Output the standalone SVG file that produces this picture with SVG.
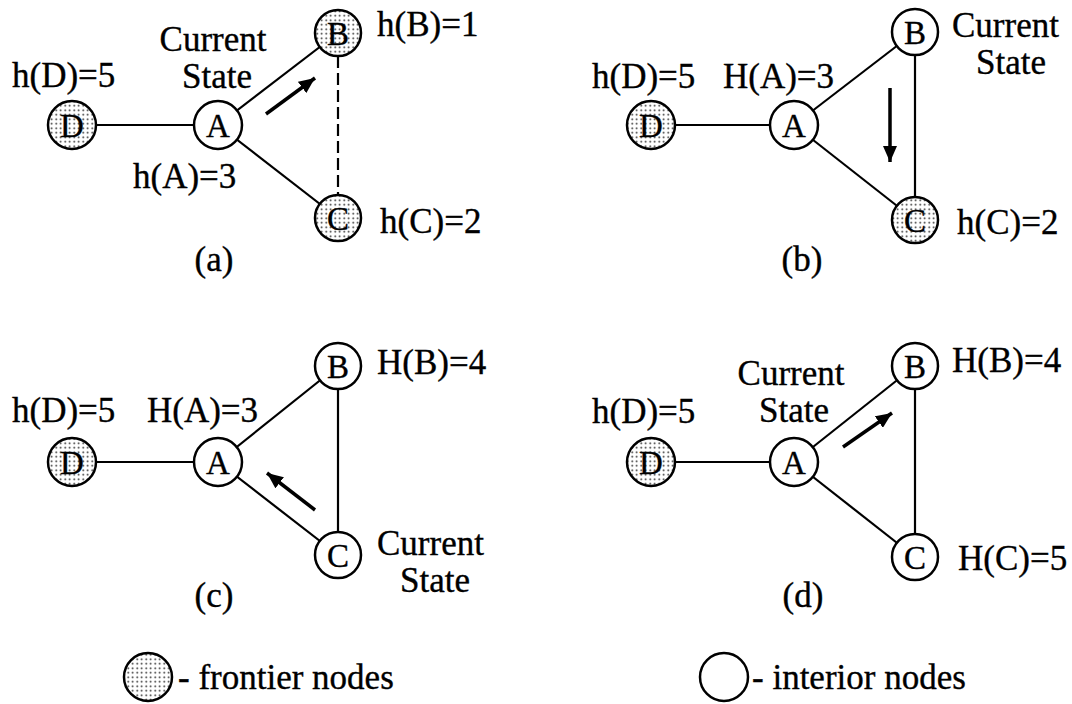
<svg xmlns="http://www.w3.org/2000/svg" width="1072" height="704" viewBox="0 0 1072 704">
<defs>
<pattern id="dots" width="4.5" height="4.5" patternUnits="userSpaceOnUse">
<rect width="4.5" height="4.5" fill="#fff"/>
<circle cx="2.2" cy="2.2" r="0.9" fill="#222"/>
</pattern>
<marker id="ah" markerUnits="userSpaceOnUse" markerWidth="18" markerHeight="14" refX="16" refY="7" orient="auto">
<path d="M0,0 L16,7 L0,14 Z" fill="#000"/>
</marker>
</defs>
<style>
text{font-family:"Liberation Serif","Times New Roman",serif;font-size:35px;fill:#000;stroke:#000;stroke-width:0.35}
.lbl{font-size:33px;text-anchor:middle}
.m{text-anchor:middle}
.edge{stroke:#000;stroke-width:2.2;fill:none}
.dash{stroke-dasharray:12 5}
.arr{stroke:#000;stroke-width:3.5;fill:none}
.fr{fill:url(#dots);stroke:#000;stroke-width:2.5}
.in{fill:#fff;stroke:#000;stroke-width:2.5}
</style>
<rect width="1072" height="704" fill="#fff"/>
<g id="connectors">
<line class="edge" x1="72" y1="125" x2="218" y2="125"/>
<line class="edge" x1="218" y1="125" x2="338" y2="33"/>
<line class="edge" x1="218" y1="125" x2="338" y2="218"/>
<line class="edge dash" x1="338" y1="56" x2="338" y2="195"/>
<line class="arr" x1="266" y1="114" x2="315" y2="78" marker-end="url(#ah)"/>
<line class="edge" x1="651" y1="125" x2="794" y2="125"/>
<line class="edge" x1="794" y1="125" x2="915" y2="32"/>
<line class="edge" x1="794" y1="125" x2="915" y2="220"/>
<line class="edge" x1="915" y1="32" x2="915" y2="220"/>
<line class="arr" x1="890" y1="88" x2="890" y2="162" marker-end="url(#ah)"/>
<line class="edge" x1="72" y1="462" x2="218" y2="462"/>
<line class="edge" x1="218" y1="462" x2="338" y2="366"/>
<line class="edge" x1="218" y1="462" x2="338" y2="555"/>
<line class="edge" x1="338" y1="366" x2="338" y2="555"/>
<line class="arr" x1="315" y1="510" x2="267" y2="473" marker-end="url(#ah)"/>
<line class="edge" x1="651" y1="462" x2="794" y2="462"/>
<line class="edge" x1="794" y1="462" x2="915" y2="366"/>
<line class="edge" x1="794" y1="462" x2="915" y2="557"/>
<line class="edge" x1="915" y1="366" x2="915" y2="557"/>
<line class="arr" x1="843" y1="447" x2="892" y2="413" marker-end="url(#ah)"/>
</g>
<g id="panel-a">
<g id="a-D"><circle class="fr" cx="72" cy="125" r="24"/><text class="lbl" x="72" y="137">D</text></g>
<g id="a-A"><circle class="in" cx="218" cy="125" r="24"/><text class="lbl" x="218" y="137">A</text></g>
<g id="a-B"><circle class="fr" cx="338" cy="33" r="23"/><text class="lbl" x="338" y="45">B</text></g>
<g id="a-C"><circle class="fr" cx="338" cy="218" r="23"/><text class="lbl" x="338" y="230">C</text></g>
<text class="m" x="213" y="51">Current</text>
<text class="m" x="217" y="88">State</text>
<text x="12" y="87">h(D)=5</text>
<text x="133" y="188">h(A)=3</text>
<text x="377" y="36">h(B)=1</text>
<text x="380" y="233">h(C)=2</text>
<text class="m" x="214" y="271">(a)</text>
</g>
<g id="panel-b">
<g id="b-D"><circle class="fr" cx="651" cy="125" r="24"/><text class="lbl" x="651" y="137">D</text></g>
<g id="b-A"><circle class="in" cx="794" cy="125" r="24"/><text class="lbl" x="794" y="137">A</text></g>
<g id="b-B"><circle class="in" cx="915" cy="32" r="23"/><text class="lbl" x="915" y="44">B</text></g>
<g id="b-C"><circle class="fr" cx="915" cy="220" r="23"/><text class="lbl" x="915" y="232">C</text></g>
<text x="592" y="88">h(D)=5</text>
<text x="723" y="88">H(A)=3</text>
<text x="952" y="37">Current</text>
<text class="m" x="1011" y="74">State</text>
<text x="957" y="234">h(C)=2</text>
<text class="m" x="802" y="271">(b)</text>
</g>
<g id="panel-c">
<g id="c-D"><circle class="fr" cx="72" cy="462" r="24"/><text class="lbl" x="72" y="474">D</text></g>
<g id="c-A"><circle class="in" cx="218" cy="462" r="24"/><text class="lbl" x="218" y="474">A</text></g>
<g id="c-B"><circle class="in" cx="338" cy="366" r="23"/><text class="lbl" x="338" y="378">B</text></g>
<g id="c-C"><circle class="in" cx="338" cy="555" r="23"/><text class="lbl" x="338" y="567">C</text></g>
<text x="377" y="374">H(B)=4</text>
<text x="12" y="422">h(D)=5</text>
<text x="147" y="422">H(A)=3</text>
<text x="377" y="555">Current</text>
<text class="m" x="435" y="592">State</text>
<text class="m" x="214" y="607">(c)</text>
</g>
<g id="panel-d">
<g id="d-D"><circle class="fr" cx="651" cy="462" r="24"/><text class="lbl" x="651" y="474">D</text></g>
<g id="d-A"><circle class="in" cx="794" cy="462" r="24"/><text class="lbl" x="794" y="474">A</text></g>
<g id="d-B"><circle class="in" cx="915" cy="366" r="23"/><text class="lbl" x="915" y="378">B</text></g>
<g id="d-C"><circle class="in" cx="915" cy="557" r="23"/><text class="lbl" x="915" y="569">C</text></g>
<text class="m" x="791" y="385">Current</text>
<text class="m" x="794" y="422">State</text>
<text x="592" y="423">h(D)=5</text>
<text x="952" y="372">H(B)=4</text>
<text x="958" y="570">H(C)=5</text>
<text class="m" x="803" y="607">(d)</text>
</g>
<g id="legend">
<g id="legend-frontier"><circle class="fr" cx="148" cy="677" r="24"/><text x="178" y="689">- frontier nodes</text></g>
<g id="legend-interior"><circle class="in" cx="724" cy="677" r="24"/><text x="752" y="689">- interior nodes</text></g>
</g>
</svg>
